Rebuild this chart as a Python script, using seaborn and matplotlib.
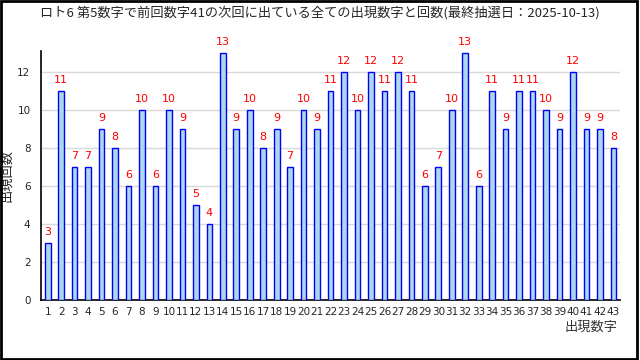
import matplotlib
matplotlib.use("Agg")
import matplotlib.pyplot as plt
import seaborn as sns
import pandas as pd
from matplotlib.patches import Rectangle

numbers = list(range(1, 44))
counts = [3, 11, 7, 7, 9, 8, 6, 10, 6, 10, 9, 5, 4, 13, 9, 10, 8, 9, 7, 10,
          9, 11, 12, 10, 12, 11, 12, 11, 6, 7, 10, 13, 6, 11, 9, 11, 11, 10, 9, 12,
          9, 9, 8]
title = "ロト6 第5数字で前回数字41の次回に出ている全ての出現数字と回数(最終抽選日：2025-10-13)"

df = pd.DataFrame({"num": numbers, "count": counts})

sns.set_style("white")
plt.rcParams["font.family"] = ["Noto Sans CJK JP", "DejaVu Sans"]

fig = plt.figure(figsize=(6.4, 3.6), dpi=100)
ax = fig.add_axes([0.064, 0.167, 0.905, 0.692])

# bars drawn at numeric positions so xlim/ticks line up with the numbers
for n, c in zip(df["num"], df["count"]):
    ax.bar(n, c, width=0.42, color="#add8e6", edgecolor="blue", linewidth=1.0, zorder=3)
    ax.text(n, c + 0.3, str(c), color="red", fontsize=8, ha="center", va="bottom",
            clip_on=False, family="DejaVu Sans")

ax.set_xlim(0.5, 43.5)
ax.set_ylim(0, 13.1)
ax.set_yticks(range(0, 13, 2))
ax.yaxis.grid(True, color="#d9d9d9", linewidth=1, zorder=0)
ax.set_xticks(numbers)
ax.set_xticklabels([str(n) for n in numbers], fontsize=7.5, family="DejaVu Sans")
ax.set_xticks([n + 0.5 for n in numbers], minor=True)
ax.tick_params(axis="x", which="major", length=0, pad=5)
ax.tick_params(axis="x", which="minor", direction="in", length=4, width=1, color="black")
ax.tick_params(axis="y", which="major", direction="out", length=4, width=1, color="black",
               labelsize=7.5)
for lab in ax.get_yticklabels():
    lab.set_family("DejaVu Sans")

sns.despine(ax=ax)
for s in ["left", "bottom"]:
    ax.spines[s].set_color("black")
    ax.spines[s].set_linewidth(1.2)

ax.set_ylabel("出現回数", fontsize=9.5)
ax.yaxis.set_label_coords(-0.048, 0.5)
ax.text(0.995, -0.085, "出現数字", transform=ax.transAxes, ha="right", va="top", fontsize=9.5,
        color="#333333")

fig.text(0.5, 0.965, title, ha="center", va="center", fontsize=9.5)
fig.patches.append(Rectangle((0.002, 0.003), 0.994, 0.994, transform=fig.transFigure,
                             fill=False, edgecolor="black", linewidth=2))

fig.savefig("out.png", dpi=100)
